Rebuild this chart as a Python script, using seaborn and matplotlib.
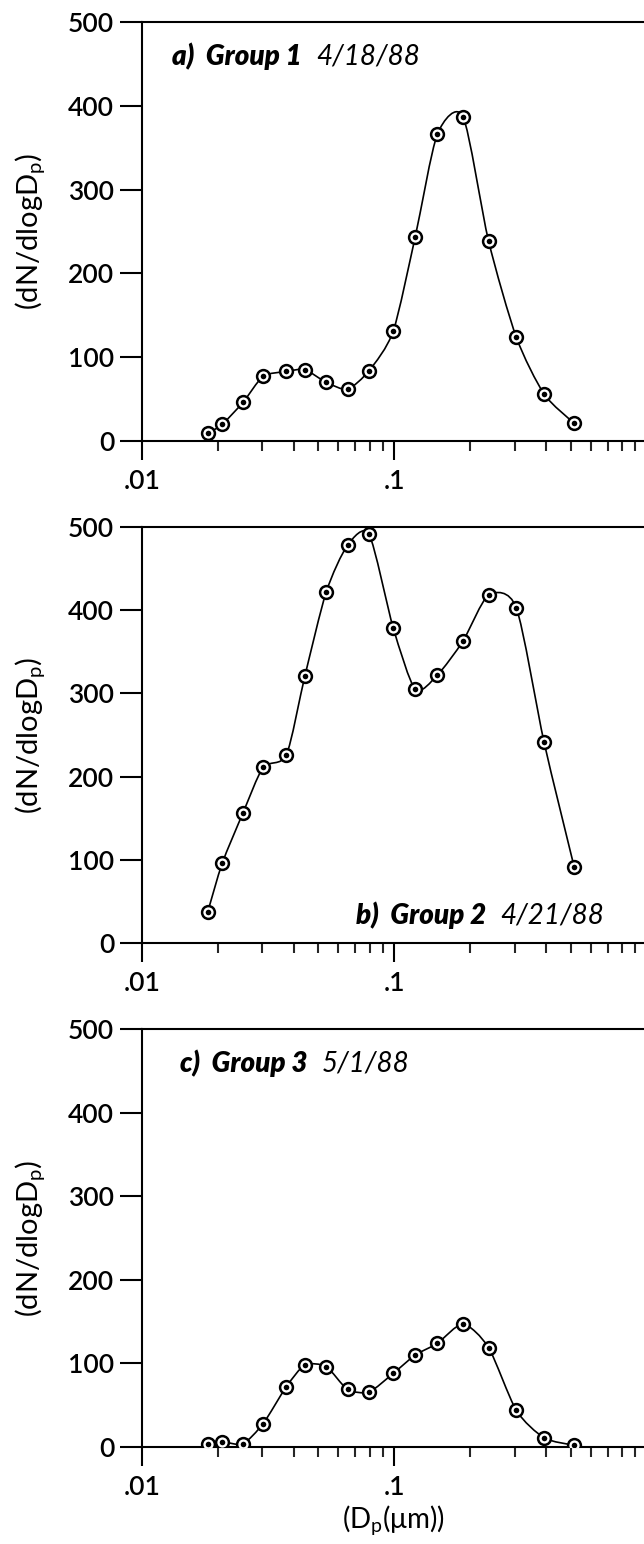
import numpy as np
import seaborn as sns
import matplotlib.pyplot as plt
from matplotlib.path import Path
from matplotlib.patches import PathPatch
from matplotlib.ticker import FixedLocator, FixedFormatter, LogLocator, NullFormatter

# particle diameter (um), shared by all three groups
diameter = [0.0182, 0.0208, 0.0251, 0.0302, 0.0373, 0.0442, 0.0537, 0.0652, 0.0794,
            0.0989, 0.121, 0.148, 0.187, 0.236, 0.304, 0.392, 0.516]

# dN/dlogDp
group1 = [9, 20, 46, 77, 83, 85, 70, 62, 84, 131, 244, 366, 387, 239, 124, 56, 21]
group2 = [37, 96, 156, 211, 226, 321, 422, 478, 491, 379, 305, 322, 363, 418, 403, 241, 91]
group3 = [3, 6, 4, 28, 72, 98, 96, 69, 66, 88, 110, 124, 147, 119, 44, 11, 2]

panel_tags = ["a)  Group 1", "b)  Group 2", "c)  Group 3"]
panel_dates = ["4/18/88", "4/21/88", "5/1/88"]

xtick_vals = [0.01, 0.1]
xtick_labels = [".01", ".1"]
ytick_vals = [0, 100, 200, 300, 400, 500]

sns.set_theme(style="ticks")
plt.rcParams["font.family"] = ["Lato", "DejaVu Sans"]
plt.rcParams["mathtext.fontset"] = "custom"
plt.rcParams["mathtext.rm"] = "Lato"


def smooth_path(xs, ys, tension=8.0):
    # cardinal spline through the points, drawn as cubic Bezier in log-x space
    lx = np.log10(np.asarray(xs, float))
    y = np.asarray(ys, float)
    n = len(lx)
    verts = [(xs[0], ys[0])]
    codes = [Path.MOVETO]
    for i in range(n - 1):
        i0 = max(i - 1, 0)
        i3 = min(i + 2, n - 1)
        c1 = (lx[i] + (lx[i + 1] - lx[i0]) / tension, y[i] + (y[i + 1] - y[i0]) / tension)
        c2 = (lx[i + 1] - (lx[i3] - lx[i]) / tension, y[i + 1] - (y[i3] - y[i]) / tension)
        verts += [(10 ** c1[0], c1[1]), (10 ** c2[0], c2[1]), (xs[i + 1], ys[i + 1])]
        codes += [Path.CURVE4] * 3
    return Path(verts, codes)


fig = plt.figure(figsize=(6.44, 15.44), dpi=100)
H = 1544.0
boxes = [(22, 441), (527, 943), (1029, 1447)]
series = [group1, group2, group3]
tick_font = dict(size=19, weight="semibold")

for k, (top, bot) in enumerate(boxes):
    ax = fig.add_axes([142 / 644, 1 - bot / H, 502 / 644, (bot - top) / H])
    vals = series[k]

    ax.add_patch(PathPatch(smooth_path(diameter, vals), facecolor="none",
                           edgecolor="black", lw=1.2, zorder=2))
    sns.scatterplot(x=diameter, y=vals, ax=ax, marker="o", s=85, color="white",
                    edgecolor="black", linewidth=1.8, zorder=3)
    sns.scatterplot(x=diameter, y=vals, ax=ax, marker="o", s=16, color="black",
                    edgecolor="black", linewidth=0, zorder=4)

    ax.set_xscale("log")
    ax.set_xlim(0.01, 0.975)
    ax.set_ylim(0, 500)

    ax.xaxis.set_major_locator(FixedLocator(xtick_vals))
    ax.xaxis.set_major_formatter(FixedFormatter(xtick_labels))
    ax.xaxis.set_minor_locator(LogLocator(base=10, subs=np.arange(2, 10)))
    ax.xaxis.set_minor_formatter(NullFormatter())
    ax.set_yticks(ytick_vals)

    for s in ["left", "bottom", "top"]:
        ax.spines[s].set_linewidth(1.5)
        ax.spines[s].set_color("black")
    ax.spines["right"].set_visible(False)

    ax.tick_params(axis="y", which="major", direction="out", length=16, width=1.5,
                   pad=4, colors="black")
    ax.tick_params(axis="x", which="major", direction="out", length=14, width=1.5,
                   pad=6, colors="black")
    ax.tick_params(axis="x", which="minor", direction="out", length=7.5, width=1.5)
    for lab in ax.get_xticklabels() + ax.get_yticklabels():
        lab.set_fontsize(tick_font["size"])
        lab.set_fontweight(tick_font["weight"])

    ax.set_ylabel(r"(dN/dlogD$_\mathregular{p}$)", fontsize=21, color="black")
    ax.yaxis.set_label_coords(-0.187, 0.5)

    if k == 1:
        d = ax.text(0.68, 33, panel_dates[k], fontsize=20, style="italic",
                    ha="right", va="center", color="black")
        ax.annotate(panel_tags[k], xy=(0, 0.5), xycoords=d, xytext=(-10, 0),
                    textcoords="offset points", ha="right", va="center",
                    fontsize=20, style="italic", weight="heavy", color="black")
    else:
        xpos = 0.0132 if k == 0 else 0.0142
        t = ax.text(xpos, 459, panel_tags[k], fontsize=20, style="italic",
                    weight="heavy", ha="left", va="center", color="black")
        ax.annotate(panel_dates[k], xy=(1, 0.5), xycoords=t, xytext=(10, 0),
                    textcoords="offset points", ha="left", va="center",
                    fontsize=20, style="italic", color="black")

    if k == 2:
        ax.set_xlabel(r"(D$_\mathregular{p}$(μm))", fontsize=20, color="black",
                      labelpad=3)

fig.savefig("out.png", dpi=100)
